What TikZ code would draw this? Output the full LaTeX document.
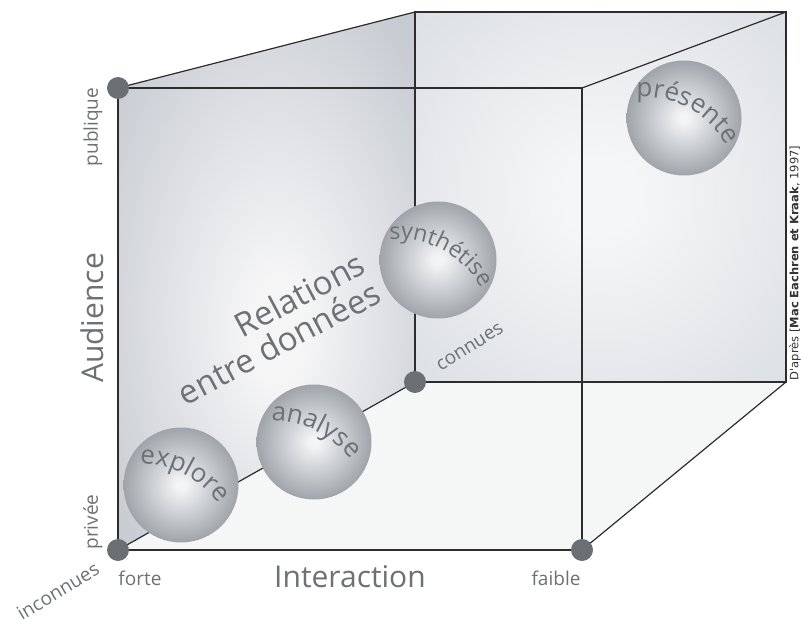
\documentclass[tikz,border=0pt]{standalone}
\usepackage{fontspec}
\setmainfont{Open Sans}
\newfontfamily\creditfont{DejaVu Sans}
\usepackage{tikz}
\usetikzlibrary{positioning,decorations.text}
\usepackage{xcolor}
\definecolor{cubeline}{RGB}{45,45,45}
\definecolor{dotgray}{RGB}{106,111,115}
\definecolor{labelgray}{RGB}{108,113,118}
\definecolor{leftin}{RGB}{245,245,246}
\definecolor{leftout}{RGB}{198,202,209}
\definecolor{backin}{RGB}{245,246,247}
\definecolor{backout}{RGB}{221,224,228}
\definecolor{floorface}{RGB}{245,246,246}
\definecolor{ballin}{RGB}{243,244,245}
\definecolor{ballmid}{RGB}{203,206,210}
\definecolor{ballout}{RGB}{160,164,170}
\pgfdeclareradialshading{leftshade}{\pgfpoint{2bp}{-5bp}}{color(0bp)=(leftin); color(5bp)=(leftin); color(34bp)=(leftout); color(50bp)=(leftout)}
\pgfdeclareradialshading{backshade}{\pgfpoint{0bp}{0bp}}{color(0bp)=(backin); color(5bp)=(backin); color(35bp)=(backout); color(50bp)=(backout)}
\pgfdeclareradialshading{ballshade}{\pgfpoint{0bp}{0bp}}{color(0bp)=(ballin); color(2bp)=(ballin); color(13bp)=(ballmid); color(25bp)=(ballout); color(50bp)=(ballout)}
\newcommand{\ballfont}{\fontsize{26}{26}\selectfont\color{labelgray}}
\newcommand{\smallballfont}{\fontsize{23}{23}\selectfont\color{labelgray}}
\tikzstyle{cubeedge} = [draw=cubeline, line width=1.2pt]
\tikzstyle{cornerdot} = [circle, fill=dotgray, minimum size=22pt, inner sep=0pt]
\tikzstyle{ball} = [circle, shading=ballshade, minimum size=115pt, inner sep=0pt]
\tikzstyle{axislabel} = [text=labelgray, inner sep=0pt, font=\fontsize{30}{30}\selectfont]
\tikzstyle{ticklabel} = [text=labelgray, inner sep=0pt, font=\fontsize{19}{19}\selectfont]
\tikzset{balltext/.style={decorate, decoration={text along path, text={#1}, text align=center}}}

\begin{document}
\begin{tikzpicture}[x=1pt, y=1pt, node distance=28pt]
\useasboundingbox (0,0) rectangle (801,625);
% Cube corners
\coordinate (FTL) at (118,537);
\coordinate (FTR) at (582,537);
\coordinate (FBL) at (118,75);
\coordinate (FBR) at (582,75);
\coordinate (BTL) at (415,613);
\coordinate (BTR) at (786,613);
\coordinate (BBL) at (415,243);
\coordinate (BBR) at (786,243);

% Faces
\fill[shading=backshade] (BTL) -- (BTR) -- (BBR) -- (BBL) -- cycle;
\fill[floorface] (FBL) -- (BBL) -- (BBR) -- (FBR) -- cycle;
\fill[shading=leftshade] (FTL) -- (BTL) -- (BBL) -- (FBL) -- cycle;

% Edges
\draw[cubeedge] (BTL) -- (BTR) -- (BBR) -- (BBL) -- cycle;
\draw[cubeedge] (FTL) -- (FTR) -- (FBR) -- (FBL) -- cycle;
\draw[cubeedge] (FTL) -- (BTL);
\draw[cubeedge] (FTR) -- (BTR);
\draw[cubeedge] (FBL) -- (BBL);
\draw[cubeedge] (FBR) -- (BBR);

% Spheres
\node (explore) [ball] at (181,140) {};
\node (analyse) [ball] at (314,183) {};
\node (synthese) [ball, minimum size=117pt] at (438,365) {};
\node (presente) [ball] at (684,507) {};

\coordinate (explorearc) at ([shift={(-41,-76)}]explore.center);
\coordinate (analysearc) at ([shift={(-41,-76)}]analyse.center);
\coordinate (synthesearc) at ([shift={(-41,-76)}]synthese.center);
\coordinate (presentearc) at ([shift={(-41,-76)}]presente.center);

\path[balltext={|\ballfont|explore}] (explorearc) ++(128:97) arc[start angle=128, end angle=-2, radius=97];
\path[balltext={|\ballfont|analyse}] (analysearc) ++(129:97) arc[start angle=129, end angle=-1, radius=97];
\path[balltext={|\smallballfont|synthétise}] (synthesearc) ++(127:97) arc[start angle=127, end angle=-3, radius=97];
\path[balltext={|\ballfont|présente}] (presentearc) ++(127:97) arc[start angle=127, end angle=-3, radius=97];

% Corner dots
\node (dotFTL) [cornerdot] at (FTL) {};
\node (dotFBL) [cornerdot] at (FBL) {};
\node (dotFBR) [cornerdot] at (FBR) {};
\node (dotBBL) [cornerdot] at (BBL) {};

% Axis labels
\node (audience) [axislabel, rotate=90] at (92,307) {Audience};
\node (interaction) [axislabel] at (350,48) {Interaction};
\node (publique) [ticklabel, rotate=90] at (93,498) {publique};
\node (privee) [ticklabel, rotate=90] at (93,103) {privée};
\node (forte) [ticklabel, below of=dotFBL, xshift=22pt] {forte};
\node (faible) [ticklabel, below of=dotFBR, xshift=-26pt] {faible};
\node (inconnues) [ticklabel, rotate=31] at (58,34) {inconnues};
\node (connues) [ticklabel, rotate=32] at (470,278) {connues};
\node (relations) [axislabel, rotate=28, align=right, font=\fontsize{33}{33}\selectfont] at (271,297) {Relations\\entre données};

% Source
\node (source) [rotate=90, inner sep=0pt, font=\creditfont\fontsize{11.5}{11.5}\selectfont, text=black!80] at (795,362) {D'après [\textbf{Mac Eachren et Kraak}, 1997]};
\end{tikzpicture}
\end{document}
